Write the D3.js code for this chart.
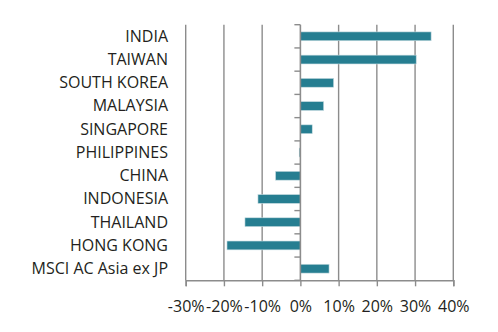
<!DOCTYPE html>
<html>
<head>
<meta charset="utf-8">
<script src="https://cdn.jsdelivr.net/npm/d3@7/dist/d3.min.js"></script>
<style>
  html, body { margin: 0; padding: 0; background: #fff; }
  svg { display: block; }
  text { font-family: "Open Sans", "Noto Sans", sans-serif; fill: #231f20; }
</style>
</head>
<body>
<svg id="chart" width="498" height="332"></svg>
<script>
// Market returns, top to bottom
const markets = ["INDIA", "TAIWAN", "SOUTH KOREA", "MALAYSIA", "SINGAPORE", "PHILIPPINES",
                 "CHINA", "INDONESIA", "THAILAND", "HONG KONG", "MSCI AC Asia ex JP"];
const returns = [34.2, 30.3, 8.7, 6.1, 3.1, -0.3, -6.5, -11.1, -14.5, -19.2, 7.5];
const xTicks = [-30, -20, -10, 0, 10, 20, 30, 40];

const svg = d3.select("#chart");
const plotLeft = 185.7, plotRight = 453.3, plotTop = 24.7, plotBottom = 280.3;

const x = d3.scaleLinear().domain([-30, 40]).range([plotLeft, plotRight]);
const y = d3.scaleBand().domain(markets).range([plotTop, plotBottom]).paddingInner(0.62).paddingOuter(0.31);
const band = d3.scaleBand().domain(markets).range([plotTop, plotBottom]);

const grid = "#8c8c8c";

// vertical gridlines
svg.append("g").selectAll("line").data(xTicks.filter(d => d !== 0)).join("line")
  .attr("x1", d => x(d)).attr("x2", d => x(d))
  .attr("y1", plotTop).attr("y2", plotBottom)
  .attr("stroke", grid).attr("stroke-width", 1.4);

// bottom axis
const xAxis = svg.append("g").attr("transform", `translate(0,${plotBottom})`)
  .call(d3.axisBottom(x).tickValues(xTicks).tickFormat(d => d + "%").tickSize(6).tickPadding(14));
xAxis.select(".domain").attr("stroke", grid).attr("stroke-width", 1.6);
xAxis.selectAll(".tick line").attr("stroke", grid).attr("stroke-width", 1.4);
xAxis.selectAll(".tick text").attr("font-size", 16).attr("fill", "#231f20")
  .attr("font-family", "'Open Sans', sans-serif");

// bars
svg.append("g").selectAll("rect").data(markets).join("rect")
  .attr("x", (d, i) => x(Math.min(0, returns[i])))
  .attr("width", (d, i) => Math.abs(x(returns[i]) - x(0)))
  .attr("y", d => y(d))
  .attr("height", y.bandwidth())
  .attr("fill", "#267e91")
  .attr("stroke", "#c9dde2").attr("stroke-width", 0.6);

// zero axis with category ticks on its left
const tickYs = band.domain().map(d => band(d)).concat([plotBottom]);
svg.append("g").selectAll("line").data(tickYs).join("line")
  .attr("x1", x(0) - 6).attr("x2", x(0))
  .attr("y1", d => d).attr("y2", d => d)
  .attr("stroke", grid).attr("stroke-width", 1.4);
svg.append("line")
  .attr("x1", x(0)).attr("x2", x(0)).attr("y1", plotTop).attr("y2", plotBottom)
  .attr("stroke", grid).attr("stroke-width", 1.6);

// category labels
svg.append("g").selectAll("text").data(markets).join("text")
  .attr("x", 168)
  .attr("y", d => band(d) + band.bandwidth() / 2)
  .attr("dy", "0.34em")
  .attr("text-anchor", "end")
  .attr("font-size", 16)
  .text(d => d);
</script>
</body>
</html>
